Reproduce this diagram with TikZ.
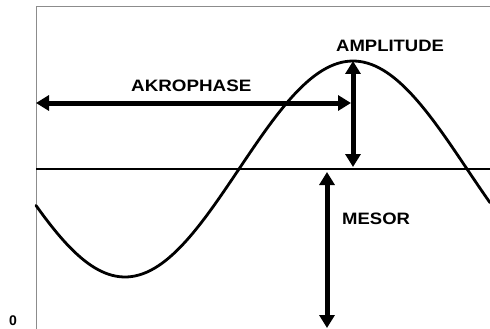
\documentclass[tikz,border=0pt]{standalone}
\usepackage{fontspec}
\setmainfont{Liberation Sans}
\usetikzlibrary{arrows.meta}
\tikzset{
  lbl/.style={font=\fontsize{16.5}{17}\selectfont\bfseries, inner sep=0pt, anchor=north west},
  bigarrow/.style={line width=5pt, {Triangle[width=15pt,length=13pt]}-{Triangle[width=15pt,length=13pt]}},
  frame/.style={draw=black!45, line width=0.6pt},
  curve/.style={line width=2.8pt, line cap=round},
  midline/.style={line width=1.8pt}
}
\begin{document}
\begin{tikzpicture}[x=1pt,y=-1pt]
\useasboundingbox (0,0) rectangle (490,329);
% frame
\draw[frame] (36,329) -- (36,6) -- (490,6);
% mesor line
\coordinate (ml) at (36,169);
\coordinate (mr) at (490,169);
\draw[midline] (ml) -- (mr);
% sine curve
\draw[curve] plot[domain=36:490, samples=120, smooth] (\x,{169-108*sin((\x-239)/228*180)});
% arrows
\coordinate (akl) at (36,103);
\coordinate (akr) at (351,103);
\draw[bigarrow] (akl) -- (akr);
\coordinate (amt) at (353,61);
\coordinate (amb) at (353,167);
\draw[bigarrow] (amt) -- (amb);
\coordinate (mst) at (327,172);
\coordinate (msb) at (327,328);
\draw[bigarrow] (mst) -- (msb);
% labels
\node[lbl] (akro) at (131,80) {\scalebox{1.14}[1]{AKROPHASE}};
\node[lbl] (ampl) at (336,40) {\scalebox{1.12}[1]{AMPLITUDE}};
\node[lbl] (meso) at (342,213) {\scalebox{1.12}[1]{MESOR}};
\node[lbl, font=\fontsize{14}{15}\selectfont\bfseries] (zero) at (9,316) {0};
\end{tikzpicture}
\end{document}
